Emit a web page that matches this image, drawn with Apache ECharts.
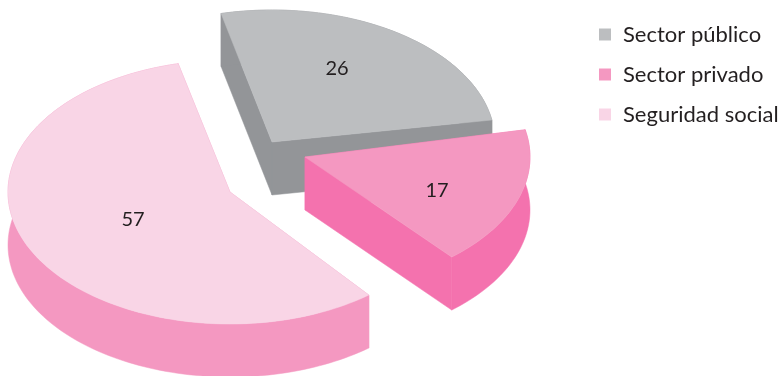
<!DOCTYPE html>
<html>
<head>
<meta charset="utf-8">
<style>html,body{margin:0;padding:0;background:#fff}#chart{width:782px;height:376px}</style>
<script src="https://cdn.jsdelivr.net/npm/echarts@6/dist/echarts.min.js"></script>
</head>
<body>
<div id="chart"></div>
<script>
// datos
var sectorNames = ['Sector público', 'Sector privado', 'Seguridad social'];
var sectorValues = [26, 17, 57];

// colores de cada rebanada: cara superior y pared
var topColors = ['#bcbec0', '#f498c1', '#f9d5e6'];
var wallColors = ['#939598', '#f472ae', '#f498c1'];

// centro, radio horizontal, giro y desplazamiento de la etiqueta de cada rebanada
var sliceCenters = [[272, 142], [305, 157], [230, 192]];
var sliceRadiusX = [223, 225, 222];
var sliceTurn = [-0.2, -2.5, -0.5];
var labelOffsets = [[65, -73], [132, 34], [-97, 28]];

var RY = 132, DEPTH = 53, START_ANGLE = -103;

var total = 0;
for (var i = 0; i < sectorValues.length; i++) { total += sectorValues[i]; }

function arcPoints(c, rx, from, to, dy) {
	var pts = [];
	var steps = Math.ceil(Math.abs(to - from) / 1.5);
	for (var s = 0; s <= steps; s++) {
		var t = (from + (to - from) * s / steps) * Math.PI / 180;
		pts.push([c[0] + rx * Math.cos(t), c[1] + RY * Math.sin(t) + dy]);
	}
	return pts;
}

function poly(points, color) {
	return {
		type: 'polygon',
		shape: { points: points },
		style: { fill: color, stroke: color, lineWidth: 0.5 }
	};
}

function makeRender(idx) {
	return function (params, api) {
		var before = 0;
		for (var k = 0; k < idx; k++) { before += sectorValues[k]; }
		var from = START_ANGLE + sliceTurn[idx] + before / total * 360;
		var to = from + api.value(0) / total * 360;
		var c = sliceCenters[idx];
		var top = arcPoints(c, sliceRadiusX[idx], from, to, 0);
		var bottom = arcPoints(c, sliceRadiusX[idx], from, to, DEPTH);
		var first = top[0], last = top[top.length - 1];
		var children = [];
		// paredes radiales
		children.push(poly([c, first, [first[0], first[1] + DEPTH], [c[0], c[1] + DEPTH]], wallColors[idx]));
		children.push(poly([c, last, [last[0], last[1] + DEPTH], [c[0], c[1] + DEPTH]], wallColors[idx]));
		// pared exterior
		children.push(poly(top.concat(bottom.slice().reverse()), wallColors[idx]));
		// cara superior
		children.push(poly([c].concat(top), topColors[idx]));
		children.push({
			type: 'text',
			x: c[0] + labelOffsets[idx][0],
			y: c[1] + labelOffsets[idx][1],
			style: {
				text: String(api.value(0)),
				fill: '#231f20',
				font: '20px Lato',
				align: 'center',
				verticalAlign: 'middle'
			}
		});
		return { type: 'group', children: children };
	};
}

var series = [];
for (var n = 0; n < sectorNames.length; n++) {
	series.push({
		name: sectorNames[n],
		type: 'custom',
		coordinateSystem: 'none',
		renderItem: makeRender(n),
		itemStyle: { color: topColors[n] },
		data: [[sectorValues[n]]],
		z: n + 1
	});
}

var myChart = echarts.init(document.getElementById('chart'), null, { renderer: 'canvas' });
myChart.setOption({
	animation: false,
	backgroundColor: '#fff',
	legend: {
		orient: 'vertical',
		left: 599,
		top: 23,
		padding: 0,
		itemGap: 17,
		itemWidth: 12,
		itemHeight: 12,
		icon: 'rect',
		textStyle: { color: '#231f20', fontFamily: 'Lato', fontSize: 22, padding: [0, 0, 0, 7], lineHeight: 23 },
		data: sectorNames
	},
	series: series
});
</script>
</body>
</html>
